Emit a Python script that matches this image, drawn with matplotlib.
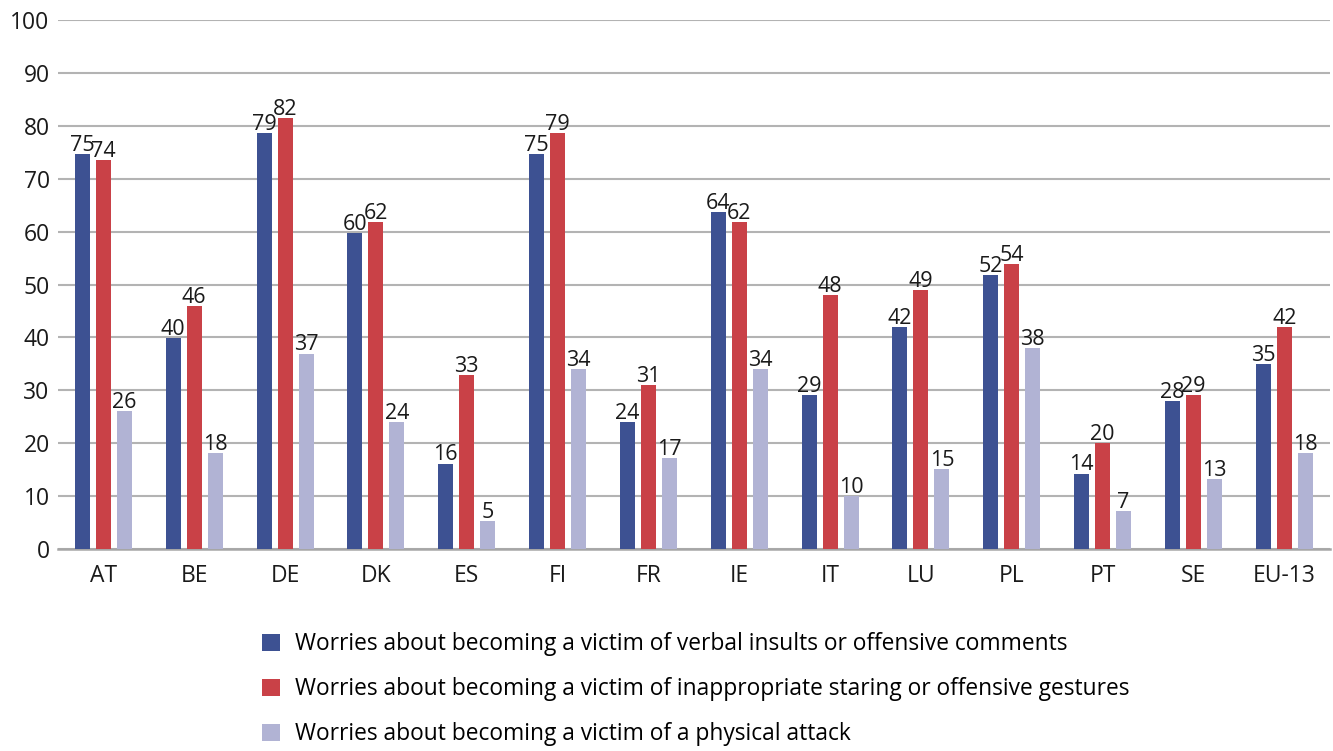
import numpy as np
import matplotlib.pyplot as plt
from matplotlib.patches import Patch

plt.rcParams['font.family'] = ['Open Sans', 'DejaVu Sans']

countries = ['AT', 'BE', 'DE', 'DK', 'ES', 'FI', 'FR', 'IE', 'IT', 'LU', 'PL', 'PT', 'SE', 'EU-13']
verbal = [74.7, 39.9, 78.6, 59.7, 16.1, 74.7, 24.0, 63.7, 29.1, 42.0, 51.8, 14.2, 28.0, 35.0]
staring = [73.5, 45.9, 81.5, 61.8, 32.9, 78.6, 31.0, 61.8, 48.0, 49.0, 53.9, 20.0, 29.1, 42.0]
physical = [26.1, 18.1, 36.9, 24.0, 5.3, 34.0, 17.2, 34.0, 10.0, 15.1, 38.0, 7.2, 13.2, 18.1]

series_labels = [
    'Worries about becoming a victim of verbal insults or offensive comments',
    'Worries about becoming a victim of inappropriate staring or offensive gestures',
    'Worries about becoming a victim of a physical attack',
]
colors = ['#3d5192', '#c94147', '#b1b3d4']

fig = plt.figure(figsize=(13.33, 7.51), dpi=100)
ax = fig.add_axes([0.0435, 0.269, 0.954, 0.704])

x = np.arange(len(countries))
width = 0.165
step = 0.231
for i, (vals, col) in enumerate(zip([verbal, staring, physical], colors)):
    pos = x + (i - 1) * step
    ax.bar(pos, vals, width=width, color=col, zorder=3)
    for p, v in zip(pos, vals):
        ax.text(p, v - 0.3, f'{round(v):d}', ha='center', va='bottom', fontsize=15.5,
                color='#1a1a1a', zorder=4)

ax.set_xlim(-0.5, len(countries) - 0.5)
ax.set_ylim(0, 100)
ax.set_yticks(range(0, 101, 10))
ax.set_xticks(x)
ax.set_xticklabels(countries)
ax.tick_params(axis='both', length=0, labelsize=16.5, colors='#1a1a1a')
ax.tick_params(axis='x', pad=11)
ax.tick_params(axis='y', pad=6)
ax.grid(axis='y', color='#b3b3b3', linewidth=1.5, zorder=0)
for s in ['top', 'right', 'left']:
    ax.spines[s].set_visible(False)
ax.spines['bottom'].set_color('#a6a6a6')
ax.spines['bottom'].set_linewidth(1.8)

handles = [Patch(facecolor=c, label=l) for c, l in zip(colors, series_labels)]
fig.legend(handles=handles, loc='upper left', bbox_to_anchor=(0.1895, 0.170),
           frameon=False, fontsize=16.4, handlelength=0.8, handleheight=0.8,
           handletextpad=0.65, labelspacing=0.92, borderaxespad=0)

fig.savefig('out.png', dpi=100)
